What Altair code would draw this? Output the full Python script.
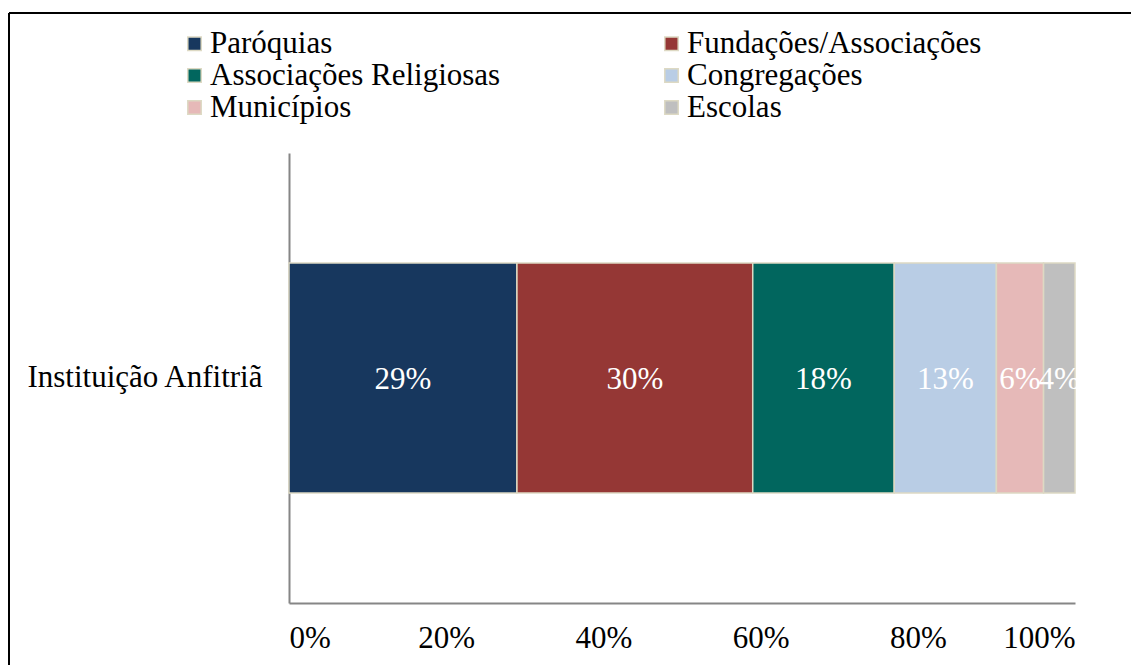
import altair as alt
import pandas as pd

categories = ["Paróquias", "Fundações/Associações", "Associações Religiosas",
              "Congregações", "Municípios", "Escolas"]
values = [29, 30, 18, 13, 6, 4]
colors = ["#17375E", "#953735", "#01665E", "#B9CDE5", "#E6B9B8", "#BFBFBF"]
row_label = "Instituição Anfitriã"
x_ticks = [0, 0.2, 0.4, 0.6, 0.8, 1.0]

FONT = "Liberation Serif"
FS = 31

df = pd.DataFrame({
    "cat": categories,
    "val": values,
    "order": list(range(len(categories))),
    "row": [row_label] * len(categories),
})
df["pct"] = df["val"] / 100.0
df["label"] = [f"{v}%" for v in values]

# legend fills column by column: reorder domain so it reads row by row
leg_idx = [0, 2, 4, 1, 3, 5]
leg_domain = [categories[i] for i in leg_idx]
leg_range = [colors[i] for i in leg_idx]

base = alt.Chart(df)

color = alt.Color("cat:N", scale=alt.Scale(domain=leg_domain, range=leg_range),
                  legend=alt.Legend(title=None, orient="none", legendX=-110, legendY=-125,
                                    columns=2, columnPadding=155, rowPadding=0,
                                    symbolType="square", symbolSize=180,
                                    symbolStrokeColor="#DDD9C3", symbolStrokeWidth=1.5,
                                    labelFont=FONT, labelFontSize=FS, labelColor="black",
                                    labelOffset=0, labelLimit=0, padding=0))

bars = base.mark_bar(size=230, stroke="#DDD9C3", strokeWidth=1.5).encode(
    x=alt.X("pct:Q", stack="zero",
            scale=alt.Scale(domain=[0, 1], nice=False),
            axis=alt.Axis(title=None, format=".0%", values=x_ticks, ticks=False,
                          labelFont=FONT, labelFontSize=FS, labelColor="black",
                          labelPadding=20, domainColor="#868686", domainWidth=2,
                          grid=False)),
    y=alt.Y("row:N",
            axis=alt.Axis(title=None, ticks=False, labelFont=FONT, labelFontSize=FS,
                          labelColor="black", labelPadding=27, labelLimit=0,
                          domainColor="#868686", domainWidth=2, grid=False)),
    color=color,
    order=alt.Order("order:Q"),
)

texts = base.transform_window(
    cum="sum(pct)", sort=[alt.SortField("order")], frame=[None, 0]
).transform_calculate(
    mid="datum.cum - datum.pct / 2"
).mark_text(font=FONT, fontSize=FS, color="white", baseline="middle", dy=2).encode(
    x=alt.X("mid:Q"),
    y=alt.Y("row:N"),
    text="label:N",
)

frame_df = pd.DataFrame({"k": [0]})
frame_left = alt.Chart(frame_df).mark_rule(color="black", strokeWidth=2).encode(
    x=alt.value(-280), y=alt.value(-140), y2=alt.value(512))
frame_top = alt.Chart(frame_df).mark_rule(color="black", strokeWidth=2).encode(
    x=alt.value(-280), x2=alt.value(842), y=alt.value(-140))

chart = alt.layer(bars, texts, frame_left, frame_top).properties(
    width=786, height=450,
    padding={"left": 8, "top": 12, "right": 0, "bottom": 0},
    background="white",
).configure(font=FONT).configure_view(stroke=None)

chart.save("out.html", embed_options={"renderer": "svg", "actions": False})
